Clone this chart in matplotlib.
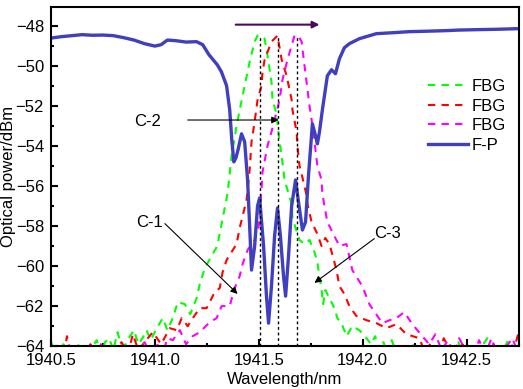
import matplotlib
matplotlib.use("Agg")
import matplotlib.pyplot as plt
from matplotlib.ticker import MultipleLocator, FormatStrFormatter

plt.rcParams['font.family'] = ['Liberation Sans', 'DejaVu Sans']
plt.rcParams['font.size'] = 12

# ---------------- data ----------------
fbg1_wl = [1940.50, 1940.52, 1940.54, 1940.56, 1940.58, 1940.60, 1940.62, 1940.64, 1940.66, 1940.68,
           1940.70, 1940.72, 1940.74, 1940.76, 1940.78, 1940.80, 1940.82, 1940.84, 1940.86, 1940.88,
           1940.90, 1940.92, 1940.94, 1940.96, 1940.98, 1941.009, 1941.038, 1941.06, 1941.086, 1941.11,
           1941.144, 1941.17, 1941.201, 1941.216, 1941.24, 1941.278, 1941.30, 1941.321, 1941.35, 1941.369,
           1941.393, 1941.422, 1941.456, 1941.48, 1941.494, 1941.51, 1941.528, 1941.542, 1941.561, 1941.566,
           1941.585, 1941.60, 1941.61, 1941.624, 1941.648, 1941.658, 1941.662, 1941.68, 1941.696, 1941.72,
           1941.744, 1941.768, 1941.782, 1941.792, 1941.80, 1941.81, 1941.82, 1941.84, 1941.864, 1941.878,
           1941.90, 1941.922, 1941.95, 1941.984, 1942.018, 1942.04, 1942.06, 1942.08, 1942.10, 1942.12,
           1942.14, 1942.16, 1942.18, 1942.20, 1942.22, 1942.24, 1942.26, 1942.28, 1942.30, 1942.34,
           1942.38, 1942.42, 1942.46, 1942.48, 1942.52, 1942.56, 1942.60, 1942.62, 1942.66, 1942.70,
           1942.75]
fbg1_db = [-63.8, -64.3, -64.5, -63.9, -64.4, -64.6, -64.2, -63.8, -64.5, -64.3,
           -64.0, -63.7, -64.4, -63.8, -63.6, -64.2, -63.3, -64.0, -63.9, -63.5,
           -63.2, -63.9, -63.6, -63.2, -63.7, -63.1, -62.6, -63.2, -62.6, -61.8,
           -61.9, -62.4, -61.6, -60.9, -60.1, -59.4, -59.0, -57.9, -56.35, -54.5,
           -53.0, -51.5, -49.8, -48.8, -48.5, -48.5, -48.65, -49.5, -50.8, -51.7,
           -52.4, -53.8, -54.5, -55.7, -56.55, -56.9, -57.6, -58.2, -58.7, -58.9,
           -58.7, -59.3, -59.8, -60.6, -61.0, -61.9, -61.2, -61.6, -62.1, -62.6,
           -62.9, -63.5, -63.0, -63.2, -63.6, -63.9, -63.5, -64.2, -63.8, -64.4,
           -63.7, -64.3, -64.6, -64.1, -64.5, -63.9, -64.4, -64.7, -64.2, -64.5,
           -64.1, -64.6, -63.8, -64.3, -64.6, -64.2, -63.6, -64.3, -64.5, -63.7,
           -64.4]

fbg2_wl = [1940.50, 1940.53, 1940.56, 1940.577, 1940.60, 1940.63, 1940.66, 1940.69, 1940.72, 1940.75,
           1940.78, 1940.81, 1940.84, 1940.87, 1940.894, 1940.92, 1940.95, 1940.99, 1941.03, 1941.072,
           1941.105, 1941.129, 1941.158, 1941.182, 1941.216, 1941.249, 1941.288, 1941.312, 1941.326, 1941.345,
           1941.369, 1941.393, 1941.408, 1941.441, 1941.456, 1941.465, 1941.48, 1941.494, 1941.513, 1941.518,
           1941.528, 1941.561, 1941.59, 1941.61, 1941.634, 1941.658, 1941.662, 1941.682, 1941.686, 1941.696,
           1941.72, 1941.73, 1941.734, 1941.754, 1941.782, 1941.802, 1941.82, 1941.84, 1941.874, 1941.888,
           1941.912, 1941.936, 1941.97, 1942.018, 1942.066, 1942.114, 1942.162, 1942.21, 1942.272, 1942.30,
           1942.33, 1942.36, 1942.39, 1942.42, 1942.45, 1942.48, 1942.51, 1942.54, 1942.57, 1942.60,
           1942.63, 1942.66, 1942.69, 1942.72, 1942.75]
fbg2_db = [-64.4, -63.9, -64.5, -63.5, -64.6, -64.2, -64.5, -63.9, -64.6, -64.3,
           -64.5, -64.1, -63.8, -64.4, -63.4, -64.2, -63.8, -63.3, -63.9, -63.1,
           -63.2, -62.6, -63.0, -62.6, -62.1, -62.1, -61.3, -61.1, -60.3, -59.7,
           -59.3, -58.9, -58.1, -56.7, -55.2, -53.8, -52.8, -51.7, -51.0, -50.3,
           -49.7, -48.8, -48.5, -49.7, -50.5, -51.7, -52.2, -53.3, -54.0, -55.0,
           -56.0, -56.5, -56.9, -57.8, -58.4, -59.0, -58.6, -58.9, -60.2, -61.0,
           -61.4, -62.0, -62.5, -62.7, -62.85, -63.1, -62.9, -63.4, -63.6, -64.3,
           -63.8, -64.5, -63.6, -64.2, -64.6, -63.9, -64.4, -64.7, -64.1, -64.5,
           -63.9, -64.6, -64.2, -64.5, -63.3]

fbg3_wl = [1940.50, 1940.53, 1940.56, 1940.59, 1940.62, 1940.65, 1940.68, 1940.71, 1940.74, 1940.77,
           1940.80, 1940.83, 1940.86, 1940.89, 1940.92, 1940.95, 1940.98, 1941.01, 1941.04, 1941.06,
           1941.086, 1941.12, 1941.15, 1941.182, 1941.216, 1941.264, 1941.297, 1941.321, 1941.36, 1941.384,
           1941.408, 1941.422, 1941.446, 1941.48, 1941.50, 1941.513, 1941.518, 1941.542, 1941.561, 1941.576,
           1941.60, 1941.614, 1941.638, 1941.672, 1941.69, 1941.706, 1941.72, 1941.744, 1941.754, 1941.768,
           1941.782, 1941.802, 1941.806, 1941.816, 1941.83, 1941.854, 1941.888, 1941.922, 1941.95, 1941.998,
           1942.032, 1942.071, 1942.095, 1942.13, 1942.162, 1942.20, 1942.239, 1942.287, 1942.32, 1942.35,
           1942.38, 1942.41, 1942.44, 1942.464, 1942.50, 1942.53, 1942.56, 1942.59, 1942.62, 1942.65,
           1942.68, 1942.72, 1942.75]
fbg3_db = [-64.5, -64.2, -64.6, -64.0, -64.4, -64.7, -64.3, -64.5, -63.9, -64.6,
           -64.4, -64.1, -64.5, -64.6, -64.2, -63.8, -64.4, -63.9, -64.3, -63.6,
           -63.7, -63.2, -63.9, -63.5, -63.3, -62.8, -62.6, -62.0, -62.0, -61.1,
           -60.5, -59.9, -59.2, -58.7, -58.0, -56.2, -55.3, -54.0, -53.3, -52.7,
           -51.7, -50.7, -49.7, -48.5, -48.5, -48.8, -50.0, -52.0, -52.7, -53.8,
           -55.0, -55.7, -56.4, -57.0, -57.8, -58.3, -59.0, -58.9, -60.2, -61.0,
           -61.9, -62.5, -62.85, -62.7, -62.6, -62.3, -62.9, -63.5, -63.9, -63.4,
           -64.2, -63.7, -64.4, -63.6, -64.3, -64.6, -63.7, -64.4, -63.6, -64.5,
           -64.2, -63.6, -64.4]

fp_wl = [1940.50, 1940.55, 1940.60, 1940.65, 1940.70, 1940.75, 1940.80, 1940.85, 1940.90, 1940.95,
         1941.00, 1941.03, 1941.06, 1941.10, 1941.15, 1941.20, 1941.23, 1941.26, 1941.30, 1941.32,
         1941.345, 1941.36, 1941.37, 1941.38, 1941.39, 1941.40, 1941.417, 1941.432, 1941.446, 1941.456,
         1941.465, 1941.48, 1941.494, 1941.504, 1941.523, 1941.537, 1941.547, 1941.561, 1941.576, 1941.59,
         1941.604, 1941.619, 1941.629, 1941.643, 1941.658, 1941.677, 1941.691, 1941.71, 1941.725, 1941.739,
         1941.758, 1941.773, 1941.782, 1941.792, 1941.806, 1941.83, 1941.85, 1941.869, 1941.888, 1941.912,
         1941.936, 1941.984, 1942.066, 1942.15, 1942.224, 1942.30, 1942.40, 1942.464, 1942.55, 1942.65,
         1942.75]
fp_db = [-48.62, -48.55, -48.50, -48.45, -48.48, -48.47, -48.50, -48.60, -48.72, -48.90,
         -49.02, -48.95, -48.72, -48.75, -48.82, -48.80, -48.95, -49.45, -49.95, -50.30,
         -51.0, -52.2, -53.7, -54.8, -54.6, -54.2, -53.4, -53.8, -55.7, -58.0,
         -60.2, -59.0, -57.0, -56.6, -59.0, -61.5, -62.85, -61.0, -58.5, -57.1,
         -58.5, -60.5, -61.5, -59.5, -57.0, -55.7, -56.8, -58.2, -57.8, -55.5,
         -52.9, -53.5, -53.9, -53.3, -52.2, -50.5, -50.2, -50.4, -49.65, -49.1,
         -48.9, -48.65, -48.4, -48.35, -48.3, -48.28, -48.25, -48.22, -48.2, -48.18,
         -48.15]

peak_wl = [1941.504, 1941.590, 1941.682]
peak_db = -48.55

series_labels = ['FBG', 'FBG', 'FBG', 'F-P']
x_ticks = [1940.5, 1941.0, 1941.5, 1942.0, 1942.5]
y_ticks = [-64, -62, -60, -58, -56, -54, -52, -50, -48]

# ---------------- figure ----------------
fig = plt.figure(figsize=(5.23, 3.89), dpi=100)
ax = fig.add_axes([0.0975, 0.110, 0.894, 0.873])

dash = (3.5, 3)
ax.plot(fbg1_wl, fbg1_db, color='#00ff00', lw=1.5, dashes=dash, label=series_labels[0])
ax.plot(fbg2_wl, fbg2_db, color='#ff0000', lw=1.5, dashes=dash, label=series_labels[1])
ax.plot(fbg3_wl, fbg3_db, color='#ff00ff', lw=1.5, dashes=dash, label=series_labels[2])
ax.plot(fp_wl, fp_db, color='#3f3fbf', lw=2.4, label=series_labels[3])

for w in peak_wl:
    ax.plot([w, w], [-64, peak_db], color='black', lw=1.0, ls=(0, (2, 2)))

ax.set_xlim(1940.5, 1942.75)
ax.set_ylim(-64, -47.05)
ax.set_xticks(x_ticks)
ax.set_yticks(y_ticks)
ax.xaxis.set_minor_locator(MultipleLocator(0.25))
ax.yaxis.set_minor_locator(MultipleLocator(1))
ax.xaxis.set_major_formatter(FormatStrFormatter('%.1f'))
ax.tick_params(which='both', direction='in', top=False, right=False, width=1.5, pad=5, labelsize=12)
ax.tick_params(which='major', length=5)
ax.tick_params(which='minor', length=2.5)
for s in ax.spines.values():
    s.set_linewidth(1.5)

ax.set_xlabel('Wavelength/nm', fontsize=12, labelpad=3)
ax.set_ylabel('Optical power/dBm', fontsize=12)
ax.yaxis.set_label_coords(-0.074, 0.5)

# annotations
arrow_kw = dict(arrowstyle='-|>', color='black', lw=0.8, mutation_scale=10, shrinkA=0, shrinkB=0)
ax.text(1940.966, -52.76, 'C-2', ha='center', va='center', fontsize=12)
ax.annotate('', xy=(1941.595, -52.71), xytext=(1941.158, -52.71), arrowprops=arrow_kw)
ax.text(1940.976, -57.83, 'C-1', ha='center', va='center', fontsize=12)
ax.annotate('', xy=(1941.398, -61.39), xytext=(1941.048, -57.88), arrowprops=arrow_kw)
ax.text(1942.119, -58.38, 'C-3', ha='center', va='center', fontsize=12)
ax.annotate('', xy=(1941.768, -60.84), xytext=(1942.056, -58.63), arrowprops=arrow_kw)
ax.annotate('', xy=(1941.792, -47.95), xytext=(1941.389, -47.95),
            arrowprops=dict(arrowstyle='-|>', color='#4b0a5a', lw=1.5, mutation_scale=10,
                            shrinkA=0, shrinkB=0))

leg = ax.legend(loc='upper left', bbox_to_anchor=(0.806, 0.787), frameon=False, fontsize=12,
                handlelength=2.4, handletextpad=0.25, labelspacing=0.28, borderpad=0,
                borderaxespad=0)

fig.savefig('out.png', dpi=100)
